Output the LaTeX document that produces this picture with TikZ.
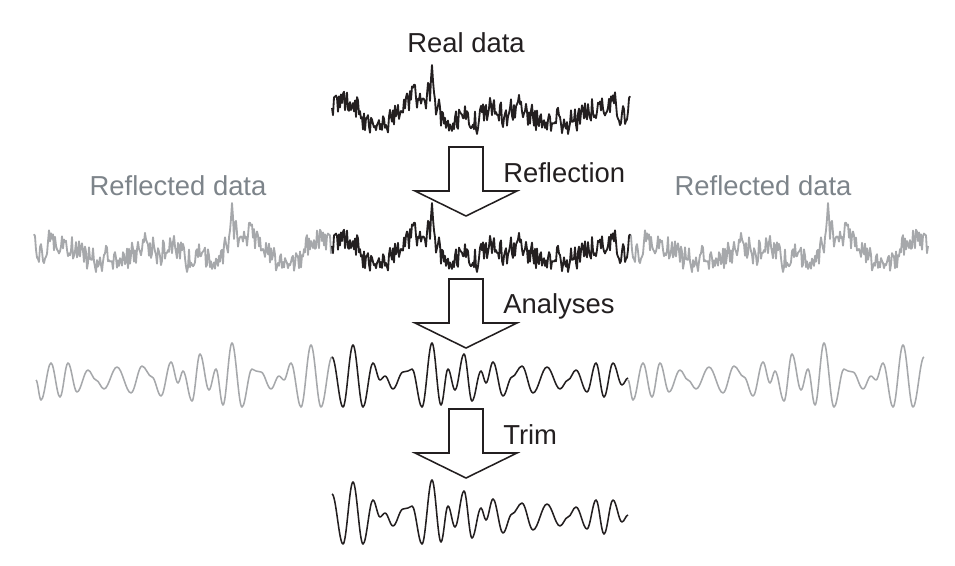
\documentclass[tikz,border=0pt]{standalone}
\usepackage{fontspec}
\setmainfont{Liberation Sans}
\definecolor{sgray}{RGB}{166,168,171}
\definecolor{tgray}{RGB}{125,132,138}
\definecolor{ink}{RGB}{35,31,32}
\begin{document}
\begin{tikzpicture}[x=0.025cm,y=-0.025cm,
  lbl/.style={font=\fontsize{19.5}{23}\selectfont, text=ink, inner sep=0pt},
  glbl/.style={lbl, text=tgray},
  noiseblack/.style={draw=ink, line width=1.3pt, line join=round},
  noisegray/.style={draw=sgray, line width=1.3pt, line join=round},
  wave/.style={line width=1.1pt, line join=round},
  bigarrow/.style={draw=ink, fill=white, line width=1.1pt, line join=miter}]
\useasboundingbox (0,0) rectangle (955,566);
% ---------- noisy record (u from 0 to 298) ----------
\pgfmathsetseed{31}
\xdef\noisepath{(0,108)}
\xdef\prevn{0}
\foreach \ua/\ya/\ub/\yb/\am in {0/108/21/99/1, 21/99/31/118/1, 31/118/51/124/1,
   51/124/65/115/1, 65/115/78/98/1, 78/98/88/98/1, 88/98/98/93/1, 98/93/100/65/0,
   100/65/103/100/0.3, 103/100/111/124/1, 111/124/121/127/1, 121/127/131/112/1,
   131/112/141/124/1, 141/124/151/115/1, 151/115/161/101/1, 161/101/171/116/1,
   171/116/188/109/1, 188/109/201/120/1, 201/120/221/120/1, 221/120/235/126/1,
   235/126/251/114/1, 251/114/268/104/1, 268/104/281/101/1, 281/101/291/116/1,
   291/116/298/110/1} {
  \pgfmathtruncatemacro\us{\ua+1}
  \foreach \k in {\us,...,\ub} {
    \pgfmathsetmacro\nn{0.25*\prevn+13*rand}
    \xdef\prevn{\nn}
    \pgfmathsetmacro\yy{\ya+(\yb-\ya)*(\k-\ua)/(\ub-\ua)+\am*\nn}
    \xdef\noisepath{\noisepath -- (\k,\yy)}
  }
}
% ---------- smooth wave (u from 0 to 296) ----------
\def\buildwave#1#2{%
  \xdef\wpu{0}\xdef\wpy{357}%
  \xdef#1{(0,357)}%
  \foreach \u/\y in {#2} {
    \pgfmathsetmacro\ca{\wpu+0.36*(\u-\wpu)}
    \pgfmathsetmacro\cb{\u-0.36*(\u-\wpu)}
    \xdef#1{#1 .. controls (\ca,\wpy) and (\cb,\y) .. (\u,\y)}
    \xdef\wpu{\u}\xdef\wpy{\y}
  }%
}
\buildwave{\waveB}{11/407, 21/345, 31/407, 41/363, 48/380, 53/376, 61/389, 71/372,
  76/371, 80/369, 90/407, 100/343, 109/405, 116/369, 123/390, 132/354, 140/401,
  149/371, 154/383, 161/362, 171/396, 180/377, 190/366, 201/393, 215/367, 228/389,
  236/380, 244/370, 255/392, 264/363, 272/397, 281/363, 290/385, 296/378}
\buildwave{\waveG}{11/407, 21/345, 31/407, 41/363, 48/380, 53/376, 61/389, 71/372,
  76/371, 80/369, 90/407, 100/343, 109/405, 116/369, 123/390, 132/354, 140/401,
  149/371, 154/383, 161/362, 171/396, 180/377, 190/366, 201/393, 215/367, 228/389,
  236/380, 244/370, 255/392, 264/363, 272/397, 281/363, 291/400, 296/380}
% ---------- row 1: real data ----------
\node[lbl, anchor=base] (real) at (466,52) {Real data};
\draw[noiseblack, shift={(332,0)}] \noisepath;
% ---------- row 2: reflected ----------
\node[glbl, anchor=base] (rdl) at (178,195) {Reflected data};
\node[glbl, anchor=base] (rdr) at (763,195) {Reflected data};
\draw[noisegray, shift={(332,138)}, xscale=-1] \noisepath;
\draw[noisegray, shift={(928,138)}, xscale=-1] \noisepath;
\draw[noiseblack, shift={(332,138)}] \noisepath;
% ---------- row 3: analyses ----------
\draw[wave, draw=sgray, shift={(332,0)}, xscale=-1] \waveG;
\draw[wave, draw=sgray, shift={(924,0)}, xscale=-1] \waveG;
\draw[wave, draw=ink, shift={(332,0)}] \waveB;
% ---------- row 4: trimmed ----------
\draw[wave, draw=ink, shift={(332,137)}] \waveB;
% ---------- block arrows ----------
\foreach \t in {147,279,409} {
  \draw[bigarrow] (449,\t) -- (483,\t) -- (483,\t+44) -- (517,\t+44) -- (466,\t+69)
    -- (415,\t+44) -- (449,\t+44) -- cycle;
}
\node[lbl, anchor=base west] (refl) at (503,182) {Reflection};
\node[lbl, anchor=base west] (ana) at (503,313) {Analyses};
\node[lbl, anchor=base west] (trim) at (503,444) {Trim};
\end{tikzpicture}
\end{document}
